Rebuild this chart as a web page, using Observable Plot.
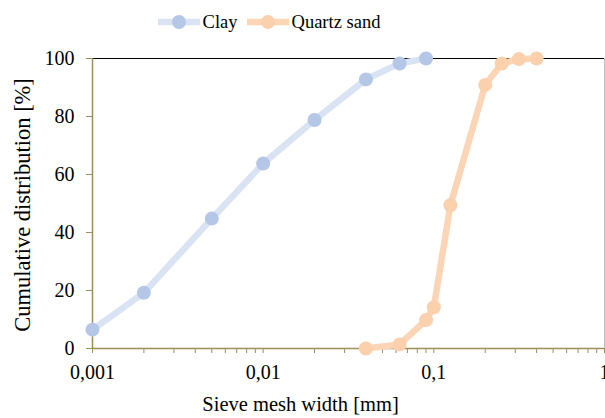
<!DOCTYPE html>
<html>
<head>
<meta charset="utf-8">
<script src="https://cdn.jsdelivr.net/npm/d3@7"></script>
<script src="https://cdn.jsdelivr.net/npm/@observablehq/plot@0.6"></script>
<style>
  html, body { margin: 0; padding: 0; background: #fff; overflow: hidden; }
  body { width: 605px; height: 418px; position: relative; font-family: "Liberation Serif", "Times New Roman", serif; }
  #legend { height: 40px; display: flex; justify-content: center; align-items: center; font-size: 18.5px; color: #000; padding-top: 4px; padding-right: 68px; box-sizing: border-box; }
  .item { display: flex; align-items: center; margin: 0 4px; }
  #xlabel { text-align: center; font-size: 20.5px; line-height: 24px; height: 26px; padding-right: 4px; }
  #ylabel { position: absolute; left: 23px; top: 205px; transform: translate(-50%, -50%) rotate(-90deg); white-space: nowrap; font-size: 22.5px; line-height: 24px; }
</style>
</head>
<body>
<div id="legend"></div>
<div id="chart"></div>
<div id="xlabel"></div>
<div id="ylabel"></div>
<script>
// ---- data ----
const seriesNames = ["Clay", "Quartz sand"];
const clayX = [0.001, 0.002, 0.005, 0.01, 0.02, 0.04, 0.063, 0.09];
const clayY = [6.5, 19.2, 44.8, 63.8, 78.8, 92.8, 98.3, 100];
const sandX = [0.04, 0.063, 0.09, 0.1, 0.125, 0.2, 0.25, 0.315, 0.4];
const sandY = [0, 1.4, 9.8, 14.2, 49.4, 90.9, 98.3, 99.8, 100];
const decadeTicks = [0.001, 0.01, 0.1, 1];
const decadeLabels = ["0,001", "0,01", "0,1", "1"];
const minorTicks = [0.002,0.003,0.004,0.005,0.006,0.007,0.008,0.009,
                    0.02,0.03,0.04,0.05,0.06,0.07,0.08,0.09,
                    0.2,0.3,0.4,0.5,0.6,0.7,0.8,0.9];
const yTicks = [0, 20, 40, 60, 80, 100];
const xTitle = "Sieve mesh width [mm]";
const yTitle = "Cumulative distribution [%]";

const colors = {
  "Clay": {line: "#dae3f3", dot: "#b4c7e7"},
  "Quartz sand": {line: "#fbd5b6", dot: "#fad0ad"}
};
const axisColor = "#9c8f5c";

const clay = clayX.map((x, i) => ({x, y: clayY[i], s: "Clay"}));
const sand = sandX.map((x, i) => ({x, y: sandY[i], s: "Quartz sand"}));

const labelMap = new Map(decadeTicks.map((d, i) => [d, decadeLabels[i]]));

const chart = Plot.plot({
  width: 605,
  height: 352,
  marginTop: 18,
  marginBottom: 44,
  marginLeft: 92,
  marginRight: 1,
  style: {fontFamily: "'Liberation Serif', 'Times New Roman', serif", fontSize: "20px", color: "#000", background: "#fff"},
  x: {type: "log", domain: [0.001, 1]},
  y: {domain: [0, 100]},
  marks: [
    Plot.ruleY([100], {stroke: "#000", strokeWidth: 1.2}),
    Plot.ruleX([1], {stroke: "#bfbfbf", strokeWidth: 1}),
    Plot.axisX({ticks: minorTicks, tickFormat: () => "", tickSize: 5, stroke: axisColor, label: null}),
    Plot.axisX({ticks: decadeTicks, tickFormat: d => labelMap.get(d), tickSize: 5, tickPadding: 11, stroke: axisColor, fill: "#000", label: null}),
    Plot.axisY({ticks: yTicks, tickSize: 6, tickPadding: 12, stroke: axisColor, fill: "#000", label: null}),
    Plot.ruleX([0.001], {stroke: axisColor, strokeWidth: 1.5}),
    Plot.ruleY([0], {stroke: axisColor, strokeWidth: 1.5}),
    Plot.line(clay, {x: "x", y: "y", stroke: colors["Clay"].line, strokeWidth: 6.5}),
    Plot.line(sand, {x: "x", y: "y", stroke: colors["Quartz sand"].line, strokeWidth: 6.5}),
    Plot.dot(clay, {x: "x", y: "y", r: 7, fill: colors["Clay"].dot, stroke: "none"}),
    Plot.dot(sand, {x: "x", y: "y", r: 7, fill: colors["Quartz sand"].dot, stroke: "none"})
  ]
});
document.getElementById("chart").appendChild(chart);

// legend
const legend = document.getElementById("legend");
for (const name of seriesNames) {
  const c = colors[name];
  const item = document.createElement("div");
  item.className = "item";
  item.innerHTML = `<svg width="44" height="16" style="margin-right:2px"><line x1="1" x2="43" y1="8" y2="8" stroke="${c.line}" stroke-width="6.5"/><circle cx="22" cy="8" r="7" fill="${c.dot}"/></svg><span>${name}</span>`;
  legend.appendChild(item);
}
document.getElementById("xlabel").textContent = xTitle;
document.getElementById("ylabel").textContent = yTitle;
</script>
</body>
</html>
